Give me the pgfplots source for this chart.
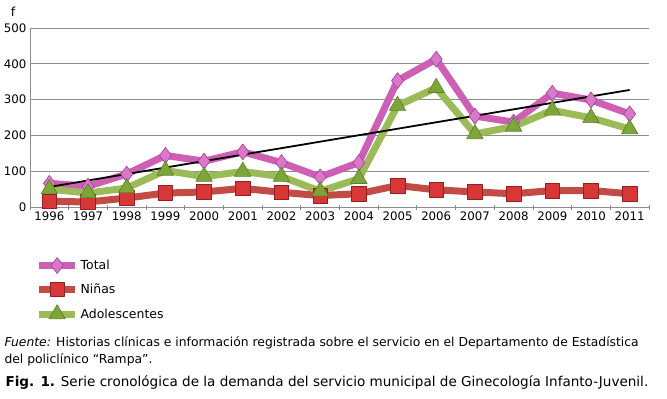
\documentclass[border=0pt]{standalone}
\usepackage{pgfplots}
\pgfplotsset{compat=1.18}
\usepackage{fontspec}
\setmainfont{DejaVu Sans}
\definecolor{totline}{RGB}{205,95,180}
\definecolor{totfill}{RGB}{215,120,200}
\definecolor{totedge}{RGB}{170,60,150}
\definecolor{ninline}{RGB}{195,75,70}
\definecolor{ninfill}{RGB}{215,55,55}
\definecolor{ninedge}{RGB}{150,30,30}
\definecolor{adoline}{RGB}{155,187,89}
\definecolor{adofill}{RGB}{125,165,55}
\definecolor{adoedge}{RGB}{95,125,40}
\definecolor{axgray}{RGB}{140,140,140}
\begin{document}
\begin{tikzpicture}[x=1bp,y=1bp]
\path[use as bounding box] (0,0) rectangle (667,398);
\begin{axis}[
  at={(30bp,191bp)}, anchor=south west,
  scale only axis, width=619bp, height=179bp,
  xmin=-0.5, xmax=15.5, ymin=0, ymax=500,
  axis x line=bottom, axis y line=left,
  axis line style={axgray, line width=0.8pt, -},
  xtick={0,...,15},
  xticklabels={1996,1997,1998,1999,2000,2001,2002,2003,2004,2005,2006,2007,2008,2009,2010,2011},
  minor xtick={-0.5,0.5,...,15.5},
  major x tick style={draw=none},
  minor tick length=5bp,
  minor x tick style={axgray, line width=0.8pt},
  ytick={0,100,...,500},
  major y tick style={draw=none},
  ymajorgrids, major grid style={axgray, line width=0.7pt},
  tick label style={font=\fontsize{11.8}{13}\selectfont},
  /pgf/number format/assume math mode=true,
  xticklabel style={yshift=1bp},
  yticklabel style={xshift=2bp},
  clip=false,
  legend cell align=left,
  legend style={at={(0.004,-0.27)}, anchor=north west, draw=none, fill=none,
    font=\fontsize{12.5}{14}\selectfont, row sep=8bp,
    /tikz/every odd column/.append style={column sep=0bp}},
  legend image code/.code={\draw[mark repeat=2,mark phase=2] plot coordinates {(0bp,0bp) (18bp,0bp) (36bp,0bp)};},
]
\addplot[totline, line width=7bp, line join=round, mark=diamond*, mark size=8bp,
  mark options={fill=totfill, draw=totedge, line width=0.6pt}] coordinates {
(0,66) (1,58) (2,92) (3,144) (4,128) (5,154) (6,124) (7,84) (8,124) (9,353) (10,413) (11,254) (12,237) (13,318) (14,299) (15,260)};
\addlegendentry{Total}
\addplot[ninline, line width=7bp, line join=round, mark=square*, mark size=7.3bp,
  mark options={fill=ninfill, draw=ninedge, line width=0.6pt}] coordinates {
(0,16) (1,14) (2,25) (3,39) (4,42) (5,52) (6,41) (7,32) (8,37) (9,60) (10,48) (11,42) (12,37) (13,46) (14,46) (15,37)};
\addlegendentry{Niñas}
\addplot[adoline, line width=7bp, line join=round, mark=triangle*, mark size=9.5bp,
  mark options={fill=adofill, draw=adoedge, line width=0.6pt}] coordinates {
(0,50) (1,39) (2,53) (3,102) (4,85) (5,99) (6,85) (7,44) (8,79) (9,283) (10,333) (11,204) (12,225) (13,270) (14,249) (15,218)};
\addlegendentry{Adolescentes}
\addplot[black, line width=1.8bp, forget plot] coordinates {(0,56) (15,327)};
\node[font=\fontsize{12.5}{14}\selectfont] at (rel axis cs:0,1) [xshift=-17bp, yshift=16bp] {f};
\end{axis}
\node[anchor=west, font=\fontsize{12.4}{14}\selectfont] at (1bp,55bp) {\textit{Fuente:} Historias clínicas e información registrada sobre el servicio en el Departamento de Estadística};
\node[anchor=west, font=\fontsize{12.4}{14}\selectfont] at (1bp,38bp) {del policlínico “Rampa”.};
\node[anchor=west, font=\fontsize{13.6}{15}\selectfont] at (2bp,15bp) {\textbf{Fig. 1.} Serie cronológica de la demanda del servicio municipal de Ginecología Infanto-Juvenil.};
\end{tikzpicture}
\end{document}
